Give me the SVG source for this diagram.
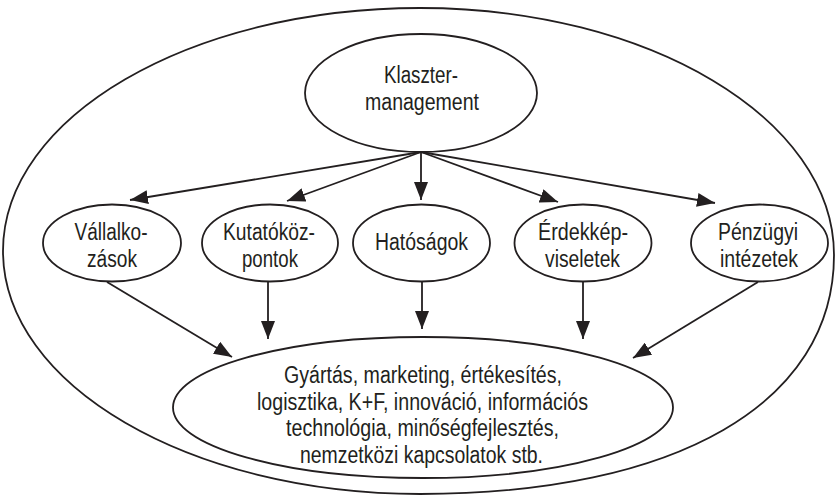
<svg xmlns="http://www.w3.org/2000/svg" width="835" height="500" viewBox="0 0 835 500">
<style>
.sh{fill:#fff;stroke:#231f20;stroke-width:1.8}
.outer{fill:none;stroke:#231f20;stroke-width:1.8}
.t{font-family:"Liberation Sans Narrow","Liberation Sans",Arial,sans-serif;font-size:23px;fill:#231f20;text-anchor:middle}
.c{stroke:#231f20;stroke-width:1.8;fill:none;marker-end:url(#ah)}
</style>
<defs>
<marker id="ah" markerUnits="userSpaceOnUse" markerWidth="18" markerHeight="14" refX="18" refY="7" orient="auto">
<path d="M0,0 L18,7 L0,14 z" fill="#231f20"/>
</marker>
</defs>
<rect width="835" height="500" fill="#fff"/>
<g id="cluster">
<path class="outer" d="M420,8 C648.5,8 834,119 834,255 C834,403 677,494 420,494 C190,494 3,385 3,251 C3,117 190,8 420,8 Z"/>
</g>
<g id="connectors">
<line class="c" x1="421" y1="152" x2="130" y2="200"/>
<line class="c" x1="421" y1="152" x2="287" y2="201"/>
<line class="c" x1="421" y1="152" x2="421" y2="200"/>
<line class="c" x1="421" y1="152" x2="558" y2="202"/>
<line class="c" x1="421" y1="152" x2="715" y2="203"/>
<line class="c" x1="107" y1="282" x2="232" y2="357"/>
<line class="c" x1="268" y1="281" x2="268" y2="339"/>
<line class="c" x1="422" y1="281" x2="422" y2="329"/>
<line class="c" x1="583" y1="281" x2="583" y2="339"/>
<line class="c" x1="758" y1="282" x2="633" y2="358"/>
</g>
<g id="management">
<ellipse class="sh" cx="421" cy="93" rx="116" ry="59"/>
<text class="t" x="421" y="83" textLength="74" lengthAdjust="spacingAndGlyphs">Klaszter-</text>
<text class="t" x="422" y="110" textLength="114" lengthAdjust="spacingAndGlyphs">management</text>
</g>
<g id="vallalkozasok">
<ellipse class="sh" cx="112" cy="243" rx="69" ry="38.5"/>
<text class="t" x="111" y="240" textLength="73" lengthAdjust="spacingAndGlyphs">Vállalko-</text>
<text class="t" x="112" y="267" textLength="50" lengthAdjust="spacingAndGlyphs">zások</text>
</g>
<g id="kutatokozpontok">
<ellipse class="sh" cx="270" cy="243" rx="68" ry="38.5"/>
<text class="t" x="269" y="240" textLength="92" lengthAdjust="spacingAndGlyphs">Kutatóköz-</text>
<text class="t" x="270" y="267" textLength="56" lengthAdjust="spacingAndGlyphs">pontok</text>
</g>
<g id="hatosagok">
<ellipse class="sh" cx="421.5" cy="243" rx="68.5" ry="38.5"/>
<text class="t" x="421.5" y="250" textLength="93" lengthAdjust="spacingAndGlyphs">Hatóságok</text>
</g>
<g id="erdekkepviseletek">
<ellipse class="sh" cx="583" cy="243" rx="68.5" ry="38.5"/>
<text class="t" x="583" y="240" textLength="90" lengthAdjust="spacingAndGlyphs">Érdekkép-</text>
<text class="t" x="582.5" y="267" textLength="75" lengthAdjust="spacingAndGlyphs">viseletek</text>
</g>
<g id="penzugyi">
<ellipse class="sh" cx="759.5" cy="243" rx="68.5" ry="38.5"/>
<text class="t" x="758" y="240" textLength="80" lengthAdjust="spacingAndGlyphs">Pénzügyi</text>
<text class="t" x="759" y="267" textLength="78" lengthAdjust="spacingAndGlyphs">intézetek</text>
</g>
<g id="tevekenysegek">
<ellipse class="sh" cx="423" cy="407.5" rx="250" ry="70.5"/>
<text class="t" x="423" y="383" textLength="278" lengthAdjust="spacingAndGlyphs">Gyártás, marketing, értékesítés,</text>
<text class="t" x="422.5" y="409.5" textLength="331" lengthAdjust="spacingAndGlyphs">logisztika, K+F, innováció, információs</text>
<text class="t" x="422.5" y="436" textLength="273" lengthAdjust="spacingAndGlyphs">technológia, minőségfejlesztés,</text>
<text class="t" x="421.5" y="462.5" textLength="243" lengthAdjust="spacingAndGlyphs">nemzetközi kapcsolatok stb.</text>
</g>
</svg>
